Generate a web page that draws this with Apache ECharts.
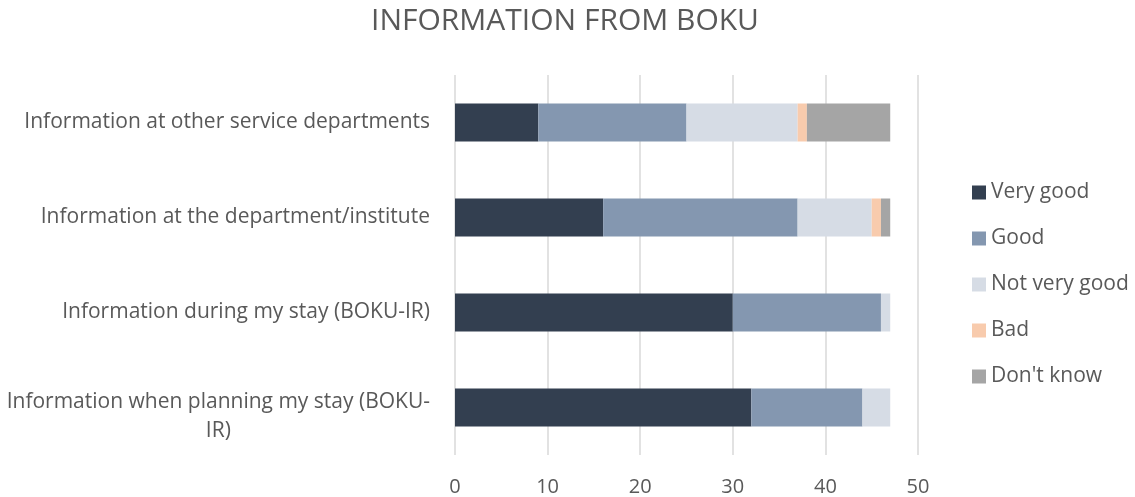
<!DOCTYPE html>
<html>
<head>
<meta charset="utf-8">
<script src="https://cdn.jsdelivr.net/npm/echarts@6/dist/echarts.min.js"></script>
<style>
  html, body { margin: 0; padding: 0; background: #fff; }
  #chart { width: 1135px; height: 497px; }
</style>
</head>
<body>
<div id="chart"></div>
<script>
// categories listed bottom to top (category axis draws first item at the bottom)
var categories = [
  "Information when planning my stay (BOKU-IR)",
  "Information during my stay (BOKU-IR)",
  "Information at the department/institute",
  "Information at other service departments"
];
var veryGood = [32, 30, 16, 9];
var good = [12, 16, 21, 16];
var notVeryGood = [3, 1, 8, 12];
var bad = [0, 0, 1, 1];
var dontKnow = [0, 0, 1, 9];
var xTicks = [0, 10, 20, 30, 40, 50];

var FONT = "Open Sans";
var TXT = "#595959";

var chart = echarts.init(document.getElementById("chart"));

function mk(name, data, color) {
  return {
    name: name,
    type: "bar",
    stack: "total",
    barWidth: 38,
    data: data,
    itemStyle: { color: color },
    emphasis: { disabled: true }
  };
}

chart.setOption({
  animation: false,
  textStyle: { fontFamily: FONT },
  title: {
    text: "INFORMATION FROM BOKU",
    left: 560,
    textAlign: "center",
    top: 1,
    textStyle: { fontFamily: FONT, fontWeight: "normal", fontSize: 30, color: TXT }
  },
  legend: {
    orient: "vertical",
    left: 967,
    top: 177,
    itemWidth: 14,
    itemHeight: 14,
    itemGap: 25,
    icon: "rect",
    textStyle: { fontFamily: FONT, fontSize: 21, color: TXT },
    itemStyle: { borderWidth: 0 },
    data: ["Very good", "Good", "Not very good", "Bad", "Don't know"]
  },
  grid: { left: 455, right: 217, top: 75, bottom: 42, containLabel: false },
  xAxis: {
    type: "value",
    min: xTicks[0],
    max: xTicks[xTicks.length - 1],
    interval: 10,
    axisLine: { show: false },
    axisTick: { show: false },
    splitLine: { lineStyle: { color: "#D9D9D9", width: 1.5 } },
    axisLabel: { fontFamily: FONT, fontSize: 20, color: TXT, margin: 22 }
  },
  yAxis: {
    type: "category",
    data: categories,
    axisLine: { show: false },
    axisTick: { show: false },
    axisLabel: {
      fontFamily: FONT,
      fontSize: 21,
      color: TXT,
      margin: 25,
      lineHeight: 29,
      formatter: function (v) {
        var cut = v.indexOf("(BOKU-IR)");
        if (v.length > 40 && cut >= 0) {
          return "{c| }\n{a|" + v.slice(0, cut + 6) + "}\n{b|" + v.slice(cut + 6) + "}";
        }
        return v;
      },
      rich: {
        a: { fontFamily: FONT, fontSize: 21, color: TXT, lineHeight: 29 },
        b: { fontFamily: FONT, fontSize: 21, color: TXT, lineHeight: 29, align: "center" },
        c: { fontSize: 10, lineHeight: 18 }
      }
    }
  },
  series: [
    mk("Very good", veryGood, "#333F50"),
    mk("Good", good, "#8497B0"),
    mk("Not very good", notVeryGood, "#D6DCE5"),
    mk("Bad", bad, "#F8CBAD"),
    mk("Don't know", dontKnow, "#A5A5A5")
  ]
});
</script>
</body>
</html>
